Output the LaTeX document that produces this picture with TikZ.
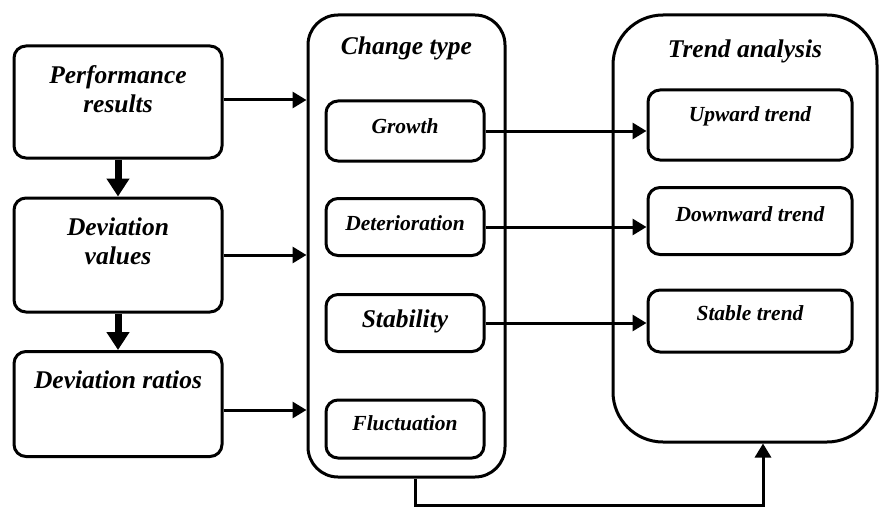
\documentclass[tikz,border=0pt]{standalone}
\usepackage{fontspec}
\setmainfont{Liberation Serif}
\usepackage{tikz}
\usetikzlibrary{positioning}
\usetikzlibrary{arrows.meta}
\tikzstyle{box} = [draw, line width=3pt, rounded corners=12pt, inner sep=0pt]
\tikzstyle{frame} = [draw, line width=3pt, inner sep=0pt]
\tikzstyle{big} = [font=\fontsize{25.5}{29}\selectfont\bfseries\itshape, align=center, inner sep=0pt]
\tikzstyle{small} = [font=\fontsize{21.5}{25}\selectfont\bfseries\itshape, align=center, inner sep=0pt]
\tikzstyle{line} = [draw, line width=3pt, -{Triangle[length=14pt,width=16pt]}]
\tikzstyle{thick line} = [draw, line width=7pt, -{Triangle[length=18pt,width=22pt]}]

\begin{document}
\begin{tikzpicture}[x=1pt, y=-1pt]
	\useasboundingbox (0, 0) rectangle (880, 508);
	% left column
	\node[box, minimum width=208pt, minimum height=112pt] (perf) at (118, 102) {};
	\node[box, minimum width=208pt, minimum height=114pt] (devv) at (118, 255) {};
	\node[box, minimum width=208pt, minimum height=105pt] (devr) at (118, 404) {};
	\node[big] (perftxt) at ([yshift=-45pt]perf.north) {Performance\\results};
	\node[big] (devvtxt) at ([yshift=-45pt]devv.north) {Deviation\\values};
	\node[big] (devrtxt) at ([yshift=-30pt]devr.north) {Deviation ratios};
	
	% change type
	\node[frame, rounded corners=30pt, minimum width=197pt, minimum height=462pt] (change) at (406.5, 246) {};
	\node[big] (changetxt) at ([yshift=-35pt]change.north) {Change type};
	\node[box, minimum width=158pt, minimum height=60pt] (grow) at (405, 131) {};
	\node[box, minimum width=158pt, minimum height=57pt] (dete) at (405, 227) {};
	\node[box, minimum width=158pt, minimum height=57pt] (stab) at (405, 323) {};
	\node[box, minimum width=158pt, minimum height=58pt] (fluc) at (405, 429) {};
	\node[small] (growtxt) at ([yshift=-27pt]grow.north) {Growth};
	\node[small] (detetxt) at ([yshift=-26pt]dete.north) {Deterioration};
	\node[big] (stabtxt) at ([yshift=-28pt]stab.north) {Stability};
	\node[small] (fluctxt) at ([yshift=-25pt]fluc.north) {Fluctuation};
	
	% trend analysis
	\node[frame, rounded corners=50pt, minimum width=264pt, minimum height=427pt] (trend) at (745, 228.5) {};
	\node[big] (trendtxt) at ([yshift=-38pt]trend.north) {Trend analysis};
	\node[box, minimum width=204pt, minimum height=70pt] (up) at (750, 125) {};
	\node[box, minimum width=204pt, minimum height=67pt] (down) at (750, 221) {};
	\node[box, minimum width=204pt, minimum height=62pt] (stable) at (750, 321) {};
	\node[small] (uptxt) at ([yshift=-28pt]up.north) {Upward trend};
	\node[small] (downtxt) at ([yshift=-28pt]down.north) {Downward trend};
	\node[small] (stabletxt) at ([yshift=-25pt]stable.north) {Stable trend};
	
	% connectors
	\draw[thick line] (perf.south) -- (devv.north);
	\draw[thick line] (devv.south) -- (devr.north);
	\draw[line] ([yshift=2pt]perf.east) -- ([yshift=2pt]perf.east -| change.west);
	\draw[line] (devv.east) -- (devv.east -| change.west);
	\draw[line] ([yshift=-6pt]devr.east) -- ([yshift=-6pt]devr.east -| change.west);
	\draw[line] (grow.east) -- (grow.east -| up.west);
	\draw[line] (dete.east) -- (dete.east -| down.west);
	\draw[line] (stab.east) -- (stab.east -| stable.west);
	\coordinate (turn) at (415, 505);
	\draw[line] ([xshift=8.5pt]change.south) -- (turn) -| ([xshift=18pt]trend.south);
\end{tikzpicture}
\end{document}
